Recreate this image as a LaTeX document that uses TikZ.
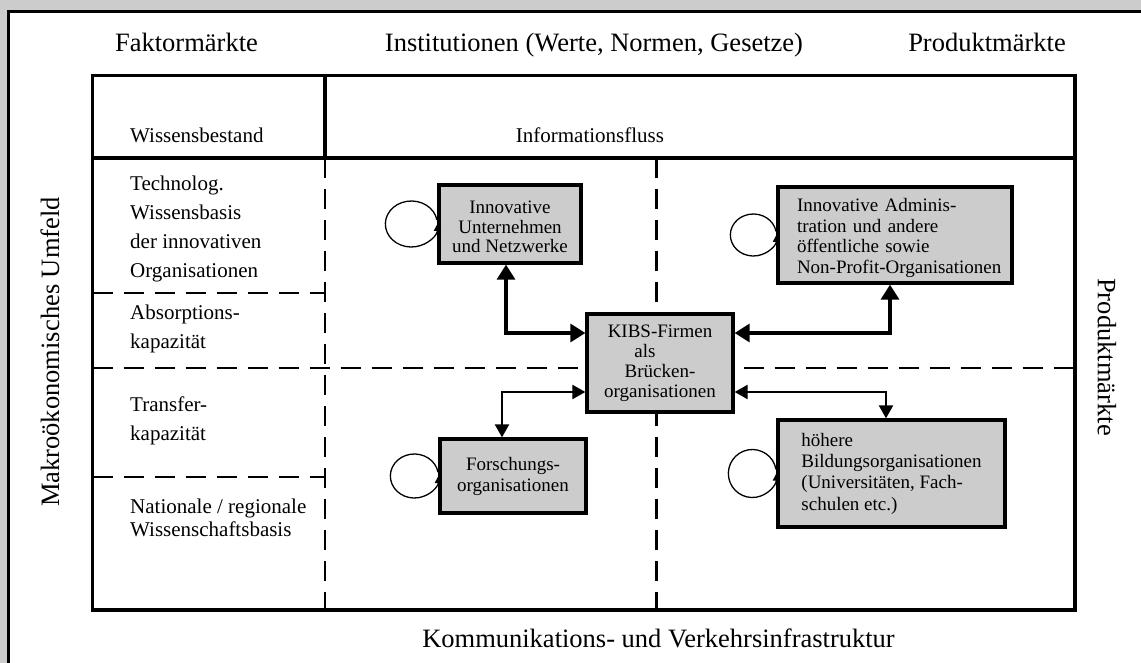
\documentclass[tikz,border=0pt]{standalone}
\usepackage{fontspec}
\setmainfont{Liberation Serif}
\usetikzlibrary{arrows.meta,calc}
\definecolor{bggray}{HTML}{CCCCCC}
\begin{document}
\begin{tikzpicture}[x=1pt,y=-1pt,
  big/.style={font=\fontsize{26.5}{30}\selectfont, inner sep=0pt},
  mid/.style={font=\fontsize{21}{29}\selectfont, inner sep=0pt, align=left, anchor=west},
  box/.style={draw, line width=3.3pt, fill=bggray, inner sep=0pt, font=\fontsize{19}{20.5}\selectfont},
  frameline/.style={line width=3.3pt},
  dashline/.style={line width=2.6pt, dash pattern=on 20pt off 11pt},
  thickarr/.style={line width=3.2pt, {Triangle[length=15pt,width=18pt]}-{Triangle[length=15pt,width=18pt]}},
  thinarr/.style={line width=2.2pt, {Triangle[length=13pt,width=14pt]}-{Triangle[length=13pt,width=14pt]}},
  selfloop/.style={line width=1.3pt, -{Triangle[length=7pt,width=7pt]}}]
\useasboundingbox (0,0) rectangle (1141,663);
\clip (0,0) rectangle (1141,663);
\fill[bggray] (0,0) rectangle (1141,663);
\draw[line width=3pt, fill=white] (8.3,11.3) rectangle (1170,690);

% outer labels
\node[big, anchor=base] (fm) at (186.5,52) {Faktormärkte};
\node[big, anchor=base] (inst) at (594,52) {Institutionen (Werte, Normen, Gesetze)};
\node[big, anchor=base] (pm) at (987,52) {Produktmärkte};
\node[big, rotate=90] (mu) at (50,352) {Makroökonomisches Umfeld};
\node[big, rotate=-90] (pmr) at (1107,357) {Produktmärkte};
\node[big] (kv) at (658.5,638) {Kommunikations- und Verkehrsinfrastruktur};

% grid
\draw[dashline] (325,158) -- (325,610);
\draw[dashline] (656.5,158) -- (656.5,610);
\draw[dashline] (92.5,293) -- (325,293);
\draw[dashline] (92.5,368) -- (1075,368);
\draw[dashline] (92.5,477) -- (325,477);
\draw[frameline] (92.5,75.5) rectangle (1075,610);
\draw[frameline] (325,75.5) -- (325,158);
\draw[frameline] (92.5,158) -- (1075,158);

% header
\node[mid] (wb) at (130,135) {Wissensbestand};
\node[font=\fontsize{21}{29}\selectfont, inner sep=0pt] (inf) at (590,135) {Informationsfluss};

% left column
\node[mid] (tw) at (130,229) {Technolog.\\Wissensbasis\\der innovativen\\Organisationen};
\node[mid] (ak) at (130,328.5) {Absorptions-\\kapazität};
\node[mid] (tk) at (130,420.5) {Transfer-\\kapazität};
\node[mid, font=\fontsize{21}{23}\selectfont] (nw) at (130,518) {Nationale / regionale\\Wissenschaftsbasis};

% boxes
\node[box, minimum width=142pt, minimum height=78pt, align=center, font=\fontsize{19}{19.5}\selectfont] (u) at (510,224) {\rule{0pt}{19pt}Innovative\\Unternehmen\\und Netzwerke};
\node[box, minimum width=234pt, minimum height=96pt, text width=196pt, inner xsep=19pt, align=left] (a) at (895,235) {\rule{0pt}{19pt}Innovative Adminis-\\tration und andere\\öffentliche sowie\\\mbox{Non-Profit-Organisationen}};
\node[box, minimum width=146pt, minimum height=98pt, align=center, font=\fontsize{19}{20}\selectfont] (k) at (660,363) {KIBS-Firmen\\\hspace*{-30pt}als\\Brücken-\\organisationen};
\node[box, minimum width=146pt, minimum height=74pt, align=center, font=\fontsize{19}{21}\selectfont] (f) at (513,476) {Forschungs-\\organisationen};
\node[box, minimum width=227pt, minimum height=107pt, align=left, inner xsep=22.5pt, font=\fontsize{19}{21.3}\selectfont] (b) at (891.5,473.5) {höhere\\Bildungsorganisationen\\(Universitäten, Fach-\\schulen etc.)};

% connectors
\draw[thickarr] ([xshift=-4pt]u.south) |- ([yshift=30pt]k.west);
\draw[thickarr] ([xshift=-5pt]a.south) |- ([yshift=30pt]k.east);
\draw[thinarr] ([yshift=-29pt]k.west) -| ([xshift=-11pt]f.north);
\draw[thinarr] ([yshift=-29pt]k.east) -| ([xshift=-5.5pt]b.north);

% self loops
\draw[selfloop] ([shift={(-26,0)}]u.west) ++(350:26 and 23) arc[start angle=350, end angle=0, x radius=26, y radius=23];
\draw[selfloop] ([shift={(-23,0)}]a.west) ++(350:23 and 21) arc[start angle=350, end angle=0, x radius=23, y radius=21];
\draw[selfloop] ([shift={(-24,0)}]f.west) ++(350:24 and 22) arc[start angle=350, end angle=0, x radius=24, y radius=22];
\draw[selfloop] ([shift={(-24,0)}]b.west) ++(350:24 and 24) arc[start angle=350, end angle=0, x radius=24, y radius=24];
\end{tikzpicture}
\end{document}
